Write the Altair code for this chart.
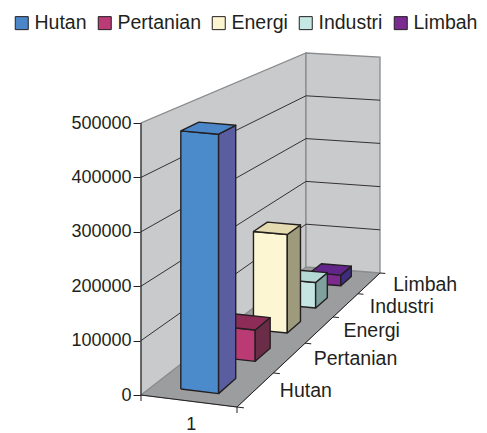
import altair as alt
import numpy as np
import pandas as pd

# ---------------- data ----------------
series = ["Hutan", "Pertanian", "Energi", "Industri", "Limbah"]
values = [480000, 61000, 202000, 55000, 24000]
category = ["1"]
y_ticks = [0, 100000, 200000, 300000, 400000, 500000]

legend_colors = ["#4A86C8", "#BB3B77", "#FCF5D0", "#C6E8E4", "#7A2A90"]
front_colors = ["#4C8BCB", "#BA3A74", "#FDF6D3", "#C4E5E2", "#7D2A8F"]
side_colors = ["#5A5EA0", "#6B2C47", "#9E9A7C", "#7FA19E", "#3E2C7E"]
top_colors = ["#4B87C8", "#8E2C58", "#E4DBB0", "#B5D9D5", "#62268A"]

# ---------------- layout (3-D camera, page pixels) ----------------
W, H = 487, 433
FLOOR = [(141, 395), (237, 407), (380, 273), (306, 267)]  # (u,v)=(0,0),(1,0),(1,1),(0,1)
H_FRONT, H_BACK_L, H_BACK_R = 272, 214, 216  # pixel height of axis max at corners
VMAX = 500000
X0, Y0 = FLOOR[0]

def _solve():
    A, b = [], []
    for (u, v), (x, y) in zip([(0, 0), (1, 0), (1, 1), (0, 1)], FLOOR):
        A.append([u, v, 1, 0, 0, 0, -u * x, -v * x]); b.append(x)
        A.append([0, 0, 0, u, v, 1, -u * y, -v * y]); b.append(y)
    return np.linalg.solve(np.array(A, float), np.array(b, float))

HOMO = _solve()
HH = H_FRONT / H_BACK_L - 1
GH = H_FRONT / H_BACK_R - 1 - HH


def proj(u, v, val):
    a, b, c, d, e, f, g, h = HOMO
    w = g * u + h * v + 1
    x = (a * u + b * v + c) / w
    y = (d * u + e * v + f) / w
    y -= H_FRONT * val / VMAX / (1 + GH * u + HH * v)
    return x - X0, (Y0 - y) * VMAX / H_FRONT


def px_to_val(p):
    return p * VMAX / H_FRONT


def poly_rows(pid, face, pts, close=True):
    rows = []
    seq = pts + [pts[0]] if close else pts
    for k, (u, v, val) in enumerate(seq):
        x, y = proj(u, v, val)
        rows.append(dict(pid=pid, face=face, k=k, x=x, y=y))
    return rows


xscale = alt.Scale(domain=[0, W - X0], nice=False, zero=False)
yscale = alt.Scale(domain=[px_to_val(Y0 - H), px_to_val(Y0)], nice=False, zero=False)
TXT = "#231F20"
FONT = "Liberation Sans"
yaxis = alt.Axis(values=y_ticks, format="d", title=None, grid=False, domain=False,
                 tickSize=8, tickColor=TXT, labelColor=TXT, labelFont=FONT,
                 labelFontSize=18, labelPadding=2)


def XY():
    return dict(x=alt.X("x:Q", scale=xscale, axis=None),
                y=alt.Y("y:Q", scale=yscale, axis=yaxis))


# ---------------- frame ----------------
floor_df = pd.DataFrame(poly_rows("floor", "floor", [(0, 0, 0), (1, 0, 0), (1, 1, 0), (0, 1, 0)]))
walls_df = pd.DataFrame(
    poly_rows("lw", "wall", [(0, 0, 0), (0, 0, VMAX), (0, 1, VMAX), (0, 1, 0)]) +
    poly_rows("bw", "wall", [(0, 1, 0), (0, 1, VMAX), (1, 1, VMAX), (1, 1, 0)]))
grid_rows = []
for t in y_ticks[1:-1]:
    grid_rows += poly_rows(f"g{t}", "grid", [(0, 0, t), (0, 1, t), (1, 1, t)], close=False)
grid_df = pd.DataFrame(grid_rows)

axis_rows = []
axis_rows += poly_rows("yax", "ax", [(0, 0, 0), (0, 0, VMAX)], close=False)
axis_rows += poly_rows("xax", "ax", [(0, 0, 0), (1, 0, 0)], close=False)
axis_rows += poly_rows("zax", "ax", [(1, 0, 0), (1, 1, 0)], close=False)
nser = len(series)
for j in range(nser + 1):
    axis_rows += poly_rows(f"zt{j}", "ax", [(1, j / nser, 0), (1.07, j / nser, 0)], close=False)
for j, uu in enumerate([0, 1]):
    x, y = proj(uu, 0, 0)
    axis_rows += [dict(pid=f"xt{j}", face="ax", k=0, x=x, y=y),
                  dict(pid=f"xt{j}", face="ax", k=1, x=x, y=y - px_to_val(6))]
axis_df = pd.DataFrame(axis_rows)

floor = alt.Chart(floor_df).mark_line(fill="#9C9D9F", stroke="#8A8B8D", strokeWidth=1).encode(
    order="k:Q", detail="pid:N", **XY())
walls = alt.Chart(walls_df).mark_line(fill="#C9CACC", stroke="#8A8B8D", strokeWidth=1.3).encode(
    order="k:Q", detail="pid:N", **XY())
grid = alt.Chart(grid_df).mark_line(stroke=TXT, strokeWidth=0.9).encode(
    order="k:Q", detail="pid:N", **XY())
axes = alt.Chart(axis_df).mark_line(stroke=TXT, strokeWidth=1).encode(
    order="k:Q", detail="pid:N", **XY())

# ---------------- bars ----------------
U0, U1 = 0.3, 0.7
SLOT = 1 / nser
D0, D1 = 0.275, 0.725
face_keys, face_cols = [], []
for i, s in enumerate(series):
    face_keys += [f"{s}-front", f"{s}-side", f"{s}-top"]
    face_cols += [front_colors[i], side_colors[i], top_colors[i]]
fill_enc = alt.Fill("face:N", scale=alt.Scale(domain=face_keys, range=face_cols), legend=None)

bar_layers = []
for i in reversed(range(nser)):
    s, val = series[i], values[i]
    v0, v1 = SLOT * (i + D0), SLOT * (i + D1)
    rows = []
    rows += poly_rows(f"{s}-front", f"{s}-front", [(U0, v0, 0), (U1, v0, 0), (U1, v0, val), (U0, v0, val)])
    rows += poly_rows(f"{s}-side", f"{s}-side", [(U1, v0, 0), (U1, v1, 0), (U1, v1, val), (U1, v0, val)])
    rows += poly_rows(f"{s}-top", f"{s}-top", [(U0, v0, val), (U1, v0, val), (U1, v1, val), (U0, v1, val)])
    bar_layers.append(
        alt.Chart(pd.DataFrame(rows)).mark_line(stroke=TXT, strokeWidth=1.4, strokeJoin="round").encode(
            order="k:Q", detail="pid:N", fill=fill_enc, **XY()))

# ---------------- legend (invisible carrier marks) ----------------
leg_df = pd.DataFrame({"series": series, "x": [0] * nser, "y": [0] * nser})
legend_layer = alt.Chart(leg_df).mark_square(opacity=0, stroke=TXT, strokeWidth=1).encode(
    color=alt.Color("series:N", scale=alt.Scale(domain=series, range=legend_colors),
                    legend=alt.Legend(title=None, orient="none", legendX=-129, legendY=13,
                                      direction="horizontal", symbolType="square", symbolSize=169,
                                      symbolStrokeColor=TXT, symbolStrokeWidth=1, symbolOpacity=1,
                                      labelFontSize=19.5, labelFont=FONT, labelColor=TXT,
                                      labelOffset=3, columnPadding=8, padding=0)),
    **XY())

# ---------------- labels ----------------
dl_rows = []
for i, s in enumerate(series):
    x, y = proj(1, SLOT * (i + 0.5), 0)
    dl_rows.append(dict(label=s, x=x, y=y))
depth_labels = alt.Chart(pd.DataFrame(dl_rows)).mark_text(
    align="left", baseline="middle", dx=24, dy=1.5, fontSize=19.5, font=FONT, color=TXT).encode(
    text="label:N", **XY())

cx, cy = proj(0.5, 0, 0)
cat_label = alt.Chart(pd.DataFrame({"label": category, "x": [cx], "y": [cy]})).mark_text(
    align="center", baseline="middle", dx=3, dy=24, fontSize=18, font=FONT, color=TXT).encode(
    text="label:N", **XY())

chart = alt.layer(legend_layer, floor, walls, grid, axes, *bar_layers, depth_labels, cat_label).properties(
    width=W - X0, height=H,
    padding={"left": X0, "top": 0, "right": 0, "bottom": 0},
    autosize=alt.AutoSizeParams(type="none"),
    background="white",
).configure_view(stroke=None)

chart.save("out.html", embed_options={"renderer": "svg", "actions": False})
